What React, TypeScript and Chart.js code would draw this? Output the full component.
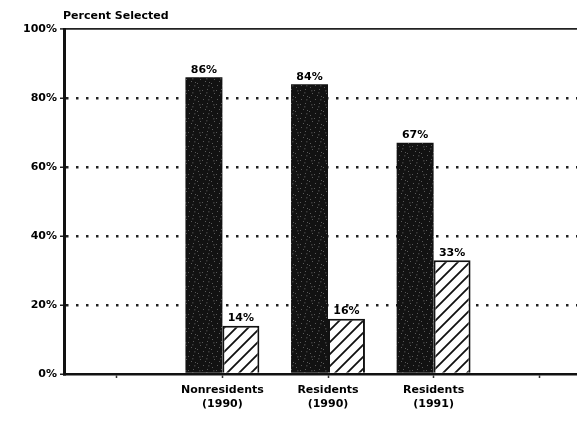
import React, { useEffect, useRef } from "react";
import { Chart, registerables } from "chart.js";

Chart.register(...registerables);

const categories: (string | string[])[] = [
  "",
  ["Nonresidents", "(1990)"],
  ["Residents", "(1990)"],
  ["Residents", "(1991)"],
  "",
];
const selectedSolid: (number | null)[] = [null, 86, 84, 67, null];
const selectedHatched: (number | null)[] = [null, 14, 16, 33, null];
const yTicks: number[] = [0, 20, 40, 60, 80, 100];
const yTitle = "Percent Selected";

const FONT = "'DejaVu Sans', 'Liberation Sans', sans-serif";

function makeHatch(ctx: CanvasRenderingContext2D): CanvasPattern | string {
  const c = document.createElement("canvas");
  c.width = 12;
  c.height = 12;
  const g = c.getContext("2d");
  if (!g) return "#fff";
  g.fillStyle = "#fff";
  g.fillRect(0, 0, 12, 12);
  g.strokeStyle = "#111";
  g.lineWidth = 1.8;
  g.beginPath();
  g.moveTo(-1, 13);
  g.lineTo(13, -1);
  g.moveTo(-7, 7);
  g.lineTo(7, -7);
  g.moveTo(5, 19);
  g.lineTo(19, 5);
  g.stroke();
  return ctx.createPattern(c, "repeat") || "#fff";
}

function makeSpeckle(ctx: CanvasRenderingContext2D): CanvasPattern | string {
  const c = document.createElement("canvas");
  c.width = 14;
  c.height = 14;
  const g = c.getContext("2d");
  if (!g) return "#111";
  g.fillStyle = "#121212";
  g.fillRect(0, 0, 14, 14);
  const dots = [
    [2, 3], [7, 1], [11, 5], [4, 9], [9, 11], [13, 12], [1, 13], [6, 6],
  ];
  g.fillStyle = "#5a5a5a";
  dots.forEach(([x, y]) => g.fillRect(x, y, 1, 1));
  g.fillStyle = "#3a3a3a";
  [[10, 8], [3, 6], [12, 1]].forEach(([x, y]) => g.fillRect(x, y, 1.5, 1.5));
  return ctx.createPattern(c, "repeat") || "#111";
}

const labelPlugin = {
  id: "barLabels",
  afterDatasetsDraw(chart: any) {
    const ctx = chart.ctx;
    ctx.save();
    ctx.fillStyle = "#000";
    ctx.font = `bold 11px ${FONT}`;
    ctx.textAlign = "center";
    ctx.textBaseline = "bottom";
    chart.data.datasets.forEach((ds: any, i: number) => {
      const meta = chart.getDatasetMeta(i);
      meta.data.forEach((el: any, j: number) => {
        const v = ds.data[j];
        if (v === null || v === undefined) return;
        ctx.fillText(`${v}%`, el.x, el.y - 2);
      });
    });
    ctx.textAlign = "left";
    ctx.textBaseline = "bottom";
    ctx.fillText(yTitle, chart.chartArea.left - 1, chart.chartArea.top - 7);
    ctx.restore();
  },
};

export default function App() {
  const ref = useRef<HTMLCanvasElement | null>(null);

  useEffect(() => {
    const canvas = ref.current;
    if (!canvas) return;
    const ctx = canvas.getContext("2d")!;
    const chart = new Chart(canvas, {
      type: "bar",
      data: {
        labels: categories as any,
        datasets: [
          {
            data: selectedSolid,
            backgroundColor: makeSpeckle(ctx) as any,
            borderColor: "#111",
            borderWidth: 0,
            categoryPercentage: 0.7,
            barPercentage: 1.0,
          },
          {
            data: selectedHatched,
            backgroundColor: makeHatch(ctx) as any,
            borderColor: "#111",
            borderWidth: 2,
            borderSkipped: "bottom",
            categoryPercentage: 0.7,
            barPercentage: 1.0,
          },
        ],
      },
      options: {
        animation: false,
        responsive: false,
        maintainAspectRatio: false,
        layout: { padding: { top: 29, right: 0, left: 0, bottom: 0 } },
        plugins: {
          legend: { display: false },
          tooltip: { enabled: false },
          title: { display: false },
        },
        scales: {
          x: {
            offset: true,
            grid: {
              display: true,
              drawOnChartArea: false,
              drawTicks: true,
              tickLength: 4,
              tickColor: "#333",
              tickWidth: 1.5,
              offset: false,
            },
            border: { display: true, color: "#111", width: 2.5 },
            ticks: {
              color: "#000",
              font: { family: FONT, size: 11, weight: "bold" },
              padding: 6,
              maxRotation: 0,
              autoSkip: false,
            },
            afterFit(scale: any) {
              scale.height = 55;
            },
          } as any,
          y: {
            min: 0,
            max: 100,
            afterBuildTicks(scale: any) {
              scale.ticks = yTicks.map((v) => ({ value: v }));
            },
            grid: {
              color: (c: any) => (c.tick && c.tick.value === 0 ? "rgba(0,0,0,0)" : "#222"),
              lineWidth: (c: any) => (c.tick && c.tick.value === 100 ? 1.8 : 2.5),
              tickColor: "#222",
              tickBorderDash: [],
              tickLength: 4,
              tickWidth: 1.5,
            } as any,
            border: {
              display: true,
              color: "#111",
              width: 3,
              dash: (c: any) => (c.tick && c.tick.value === 100 ? [] : [2.5, 7.5]),
            } as any,
            ticks: {
              color: "#000",
              font: { family: FONT, size: 11, weight: "bold" },
              padding: 3,
              callback: (v: any) => `${v}%`,
            },
            afterFit(scale: any) {
              scale.width = 64;
            },
          } as any,
        },
      },
      plugins: [labelPlugin],
    });
    return () => chart.destroy();
  }, []);

  return (
    <div
      style={{
        position: "fixed",
        left: 0,
        top: 0,
        width: 577,
        height: 429,
        overflow: "hidden",
        background: "#fff",
      }}
    >
      <canvas ref={ref} width={592} height={429} style={{ display: "block" }} />
    </div>
  );
}
